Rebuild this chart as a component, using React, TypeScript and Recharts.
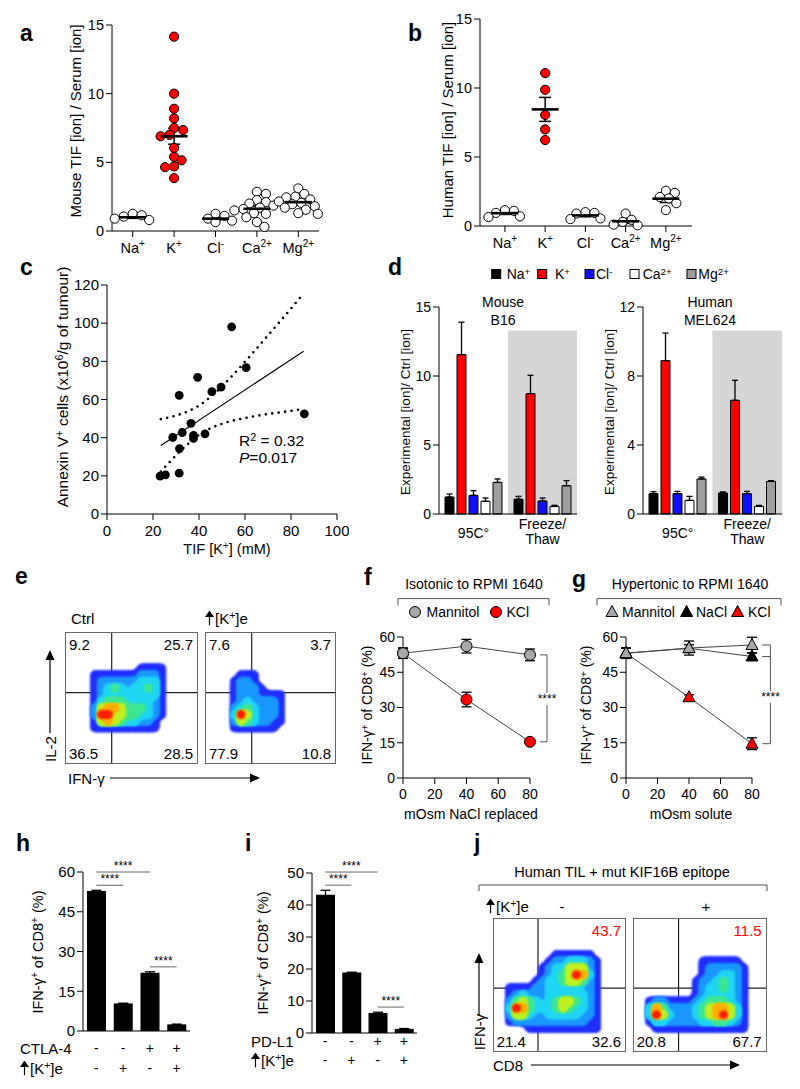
import React from 'react'
import {
  ComposedChart,
  ScatterChart,
  BarChart,
  LineChart,
  Scatter,
  Bar,
  Line,
  XAxis,
  YAxis,
  ErrorBar,
  ReferenceLine,
  ReferenceArea,
} from 'recharts'

const FONT = '"Liberation Sans", Arial, Helvetica, sans-serif'
const INK = '#000'
const RED = '#ff0000'
const GREY = '#a8a8a8'

// a / b: TIF vs serum ratio per ion
const ions = ['Na', 'K', 'Cl', 'Ca', 'Mg']
const ionCharge = ['+', '+', '-', '2+', '2+']
const ionColors = ['#000000', '#ff0000', '#1010ff', '#ffffff', '#9e9e9e']

const mouseNa = [1.25, 1.15, 1.05, 0.8, 0.9]
const mouseK = [14.15, 10.0, 8.9, 8.2, 7.5, 7.35, 7.0, 6.9, 6.05, 5.4, 5.15, 4.7, 4.65, 3.85]
const mouseCl = [1.25, 1.1, 0.9, 0.75, 0.65]
const mouseCa = [2.85, 2.7, 2.25, 2.1, 2.0, 1.85, 1.7, 1.6, 1.5, 1.3, 1.25, 1.0, 0.65, 0.3]
const mouseMg = [3.1, 2.7, 2.5, 2.45, 2.3, 2.15, 2.05, 1.95, 1.8, 1.7, 1.55, 1.3, 1.25]
const mouseMean = [1.0, 6.9, 0.9, 1.62, 2.1]
const mouseSem = [0.08, 0.58, 0.1, 0.2, 0.15]

const humanNa = [1.15, 1.1, 0.95, 0.7, 0.65]
const humanK = [11.08, 9.87, 8.05, 7.0, 6.23]
const humanCl = [1.0, 0.95, 0.9, 0.55, 0.5]
const humanCa = [0.9, 0.45, 0.3, 0.1, 0.05]
const humanMg = [2.55, 2.4, 2.1, 2.0, 1.65, 1.15]
const humanMean = [0.93, 8.45, 0.77, 0.34, 1.98]
const humanSem = [0.09, 0.87, 0.1, 0.15, 0.28]

// c: annexin V+ vs TIF [K+]
const tifK = [54.2, 60.5, 39.4, 31.4, 45.6, 49.6, 85.8, 36.5, 32.7, 28.6, 37.6, 37.6, 42.6, 31.5, 23.1, 25.4, 31.4]
const annexinV = [98.1, 76.7, 71.6, 62.2, 64.1, 66.5, 52.5, 47.5, 42.7, 40.1, 41.2, 39.6, 42.0, 34.3, 19.8, 20.5, 21.4]
const fitX = [23.4, 85.5]
const fitY = [35.9, 85.3]
const ciX = [23.4, 30, 35, 40, 45, 50, 55, 60, 65, 70, 75, 80, 85.5]
const ciUpperY = [49.7, 51.6, 53.7, 56.8, 61.3, 66.9, 73.1, 79.8, 86.6, 93.6, 100.6, 107.7, 115.6]
const ciLowerY = [22.2, 30.7, 36.5, 41.4, 44.9, 47.3, 49.0, 50.3, 51.4, 52.4, 53.2, 54.1, 55.0]

// d: lysis experiments
const dGroups = ['95C°', 'Freeze/Thaw']
const b16Heat = [1.23, 11.55, 1.35, 0.92, 2.29]
const b16HeatErr = [0.22, 2.35, 0.34, 0.24, 0.25]
const b16Freeze = [1.07, 8.72, 0.94, 0.55, 2.05]
const b16FreezeErr = [0.21, 1.33, 0.22, 0.08, 0.37]
const melHeat = [1.18, 8.89, 1.18, 0.79, 2.03]
const melHeatErr = [0.11, 1.6, 0.13, 0.23, 0.11]
const melFreeze = [1.22, 6.59, 1.18, 0.44, 1.89]
const melFreezeErr = [0.06, 1.16, 0.13, 0.06, 0.04]

// e / j: flow density maps (levels 0-7 on a 20x20 grid, top row first)
const Z = '00000000000000000000'
const eCtrlDensity = [Z, Z, Z, Z, Z,
  '00000000000111100000',
  '00001111111222100000',
  '00001222222333100000',
  '00001234323343100000',
  '00001233333333100000',
  '00001344433332100000',
  '00002566544432100000',
  '00002775544332100000',
  '00001565433221000000',
  '00001111111111000000',
  Z, Z, Z, Z, Z]
const eKDensity = [Z, Z, Z, Z, Z, Z,
  '00000111000000000000',
  '00001221000000000000',
  '00001222100000000000',
  '00001222111100000000',
  '00001232222100000000',
  '00002343222100000000',
  '00003753222100000000',
  '00002543221100000000',
  '00001111111000000000',
  Z, Z, Z, Z, Z]
const jCtrlDensity = [Z, Z, Z, Z, Z,
  '00000000011111100000',
  '00000000122333210000',
  '00000001233555210000',
  '00000001234576310000',
  '00000012334554210000',
  '00111122333332210000',
  '00123222333333210000',
  '00245432345543210000',
  '00376433345433210000',
  '00255322333332210000',
  '00122222222222110000',
  '00000111111111110000',
  Z, Z, Z]
const jKDensity = [Z, Z, Z, Z, Z, Z,
  '00000000001111110000',
  '00000000001222221000',
  '00000000001223321000',
  '00000000012234321000',
  '00000000012334321000',
  '00000000012333321000',
  '00122111123444321000',
  '00364222234566531000',
  '00375322234567531000',
  '00133222223344321000',
  '00011111111111111000',
  Z, Z, Z]
const eCtrlPct = [9.2, 25.7, 36.5, 28.5]
const eKPct = [7.6, 3.7, 77.9, 10.8]
const jCtrlPct = [null, 43.7, 21.4, 32.6]
const jKPct = [null, 11.5, 20.8, 67.7]
const eGates = [[7.02, 10.8], [7.13, 10.8]]
const jGates = [[6.75, 9.5], [6.8, 9.5]]
const DENSITY = ['none', '#1f2dff', '#1a96ff', '#1ed6f2', '#3ee692', '#bff020', '#ffae00', '#ff1c00']

// f / g: IFN-g+ vs osmolality
const osm = [0, 40, 80]
const isoMannitol = [53.1, 56.1, 52.4]
const isoMannitolErr = [2.2, 2.9, 2.5]
const isoKCl = [53.1, 33.4, 15.4]
const isoKClErr = [2.2, 3.1, 0.8]
const hyperMannitol = [53.1, 55.3, 56.6]
const hyperMannitolErr = [2.2, 3.0, 3.3]
const hyperNaCl = [53.1, 55.2, 51.7]
const hyperNaClErr = [2.2, 1.5, 1.5]
const hyperKCl = [53.1, 34.4, 14.6]
const hyperKClErr = [2.2, 1.0, 2.5]

// h / i: checkpoint blockade
const hCond = ['ctrl', 'K', 'CTLA-4', 'CTLA-4+K']
const hVals = [52.8, 10.4, 22.0, 2.5]
const hErr = [0.3, 0.1, 0.35, 0.1]
const hAb = ['-', '-', '+', '+']
const hK = ['-', '+', '-', '+']
const hSig = [[0, 1, 55], [0, 2, 60], [2, 3, 24.2]]
const iCond = ['ctrl', 'K', 'PD-L1', 'PD-L1+K']
const iVals = [43.2, 18.9, 6.25, 1.3]
const iErr = [1.4, 0.1, 0.25, 0.1]
const iAb = ['-', '-', '+', '+']
const iK = ['-', '+', '-', '+']
const iSig = [[0, 1, 46.2], [0, 2, 50.3], [2, 3, 8.1]]

type Rect = { l: number; t: number; r: number; b: number }

const frame = (p: Rect, yW: number, xH: number, mt = 10, mr = 10) => ({
  style: { position: 'absolute' as const, left: p.l - yW, top: p.t - mt },
  width: p.r - p.l + yW + mr,
  height: p.b - p.t + mt + xH,
  margin: { top: mt, right: mr, bottom: 0, left: 0 },
})

const tickFont = { fontSize: 14, fill: '#000' }

const Sup = ({ children }: { children: React.ReactNode }) => (
  <span style={{ fontSize: '0.7em', position: 'relative', top: '-0.45em' }}>{children}</span>
)

function Txt({ x, y, size = 14, anchor = 'start', rot = false, bold = false, color = '#000', bg, children }: any) {
  const tx = anchor === 'start' ? '0%' : anchor === 'end' ? '-100%' : '-50%'
  return (
    <div
      style={{
        position: 'absolute',
        left: x,
        top: y,
        fontSize: size,
        lineHeight: 1,
        whiteSpace: 'nowrap',
        fontWeight: bold ? 700 : 400,
        color,
        background: bg,
        transform: `translate(${tx}, -50%)${rot ? ' rotate(-90deg)' : ''}`,
      }}
    >
      {children}
    </div>
  )
}

const UpArrow = () => (
  <svg width={9} height={15} viewBox="0 0 9 15" style={{ verticalAlign: '-2px', marginRight: 1 }}>
    <polygon points="4.5,0 9,6.5 0,6.5" fill="#000" />
    <line x1={4.5} y1={5} x2={4.5} y2={15} stroke="#000" strokeWidth={1.2} />
  </svg>
)

const KE = () => (
  <>
    <UpArrow />[K<Sup>+</Sup>]e
  </>
)

const IfnLabel = () => (
  <>
    IFN-γ<Sup>+</Sup> of CD8<Sup>+</Sup> (%)
  </>
)

// simple beeswarm: nudge points sideways until they stop overlapping
function swarm(values: number[], slot: number, pxY: number, pxX: number, gap: number) {
  const placed: { dx: number; py: number }[] = []
  return values.map((v) => {
    const py = v * pxY
    let dx = 0
    for (let k = 0; k < 80; k++) {
      const cand = (k % 2 ? 1 : -1) * Math.ceil(k / 2) * 1.5
      if (placed.every((p) => (p.dx - cand) ** 2 + (p.py - py) ** 2 >= gap * gap)) {
        dx = cand
        break
      }
    }
    placed.push({ dx, py })
    return { x: slot + dx / pxX, y: v }
  })
}

const IonTick = (p: any) => {
  const i = Math.round(p.payload.value) - 1
  return (
    <text x={p.x} y={p.y + 14} textAnchor="middle" fontSize={14.5} fill="#000">
      {ions[i]}
      <tspan dy={-6} fontSize={10}>
        {ionCharge[i]}
      </tspan>
    </text>
  )
}

const swarmDot = (p: any) => (
  <circle cx={p.cx} cy={p.cy} r={4.6} fill={p.payload.hot ? RED : '#fff'} stroke={INK} strokeWidth={1} />
)
const meanBar = (p: any) => (
  <line x1={p.cx - 13.5} x2={p.cx + 13.5} y1={p.cy} y2={p.cy} stroke={INK} strokeWidth={2.6} />
)

function IonPanel({ plot, xDomain, groups, mean, sem }: any) {
  const f = frame(plot, 50, 40)
  const pxY = (plot.b - plot.t) / 15
  const pxX = (plot.r - plot.l) / (xDomain[1] - xDomain[0])
  const pts = groups.flatMap((vals: number[], gi: number) =>
    swarm(vals, gi + 1, pxY, pxX, 8).map((q) => ({ ...q, hot: gi === 1 ? 1 : 0 })),
  )
  const means = mean.map((m: number, i: number) => ({ x: i + 1, y: m, sem: sem[i] }))
  return (
    <div style={f.style}>
      <ScatterChart width={f.width} height={f.height} margin={f.margin}>
        <XAxis type="number" dataKey="x" domain={xDomain} ticks={[1, 2, 3, 4, 5]} interval={0} tick={<IonTick />} tickSize={6} height={40} stroke={INK} />
        <YAxis type="number" dataKey="y" domain={[0, 15]} ticks={[0, 5, 10, 15]} width={50} tickSize={6} tick={{ fontSize: 14.5, fill: '#000' }} stroke={INK} />
        <Scatter data={pts} shape={swarmDot} isAnimationActive={false} />
        <Scatter data={means} shape={meanBar} isAnimationActive={false}>
          <ErrorBar dataKey="sem" direction="y" width={6} stroke={INK} strokeWidth={1.5} />
        </Scatter>
      </ScatterChart>
    </div>
  )
}

function CorrPanel() {
  const plot = { l: 107, t: 285, r: 337, b: 514 }
  const f = frame(plot, 50, 40, 10, 12)
  const pts = tifK.map((x, i) => ({ x, y: annexinV[i] }))
  const fit = fitX.map((x, i) => ({ x, y: fitY[i] }))
  const upper = ciX.map((x, i) => ({ x, y: ciUpperY[i] }))
  const lower = ciX.map((x, i) => ({ x, y: ciLowerY[i] }))
  const big = { fontSize: 15, fill: '#000' }
  return (
    <div style={f.style}>
      <ComposedChart width={f.width} height={f.height} margin={f.margin}>
        <XAxis type="number" dataKey="x" domain={[0, 100]} ticks={[0, 20, 40, 60, 80, 100]} tickSize={6} tickMargin={5} tick={big} stroke={INK} height={40} />
        <YAxis type="number" dataKey="y" domain={[0, 120]} ticks={[0, 20, 40, 60, 80, 100, 120]} width={50} tickSize={6} tick={big} stroke={INK} />
        <Line data={upper} dataKey="y" type="monotone" stroke={INK} strokeWidth={2.6} strokeDasharray="0 6.5" strokeLinecap="round" dot={false} activeDot={false} isAnimationActive={false} />
        <Line data={lower} dataKey="y" type="monotone" stroke={INK} strokeWidth={2.6} strokeDasharray="0 6.5" strokeLinecap="round" dot={false} activeDot={false} isAnimationActive={false} />
        <Line data={fit} dataKey="y" stroke={INK} strokeWidth={1.1} dot={false} activeDot={false} isAnimationActive={false} />
        <Scatter data={pts} dataKey="y" shape={(p: any) => <circle cx={p.cx} cy={p.cy} r={4.4} fill={INK} />} isAnimationActive={false} />
      </ComposedChart>
    </div>
  )
}

const GroupTick = (p: any) => {
  const v: string = p.payload.value
  if (v.includes('/')) {
    const [a, b] = v.split('/')
    return (
      <text textAnchor="middle" fontSize={14} fill="#000">
        <tspan x={p.x} y={p.y + 15}>{a + '/'}</tspan>
        <tspan x={p.x} y={p.y + 30}>{b}</tspan>
      </text>
    )
  }
  return (
    <text x={p.x} y={p.y + 24} textAnchor="middle" fontSize={14} fill="#000">
      {v}
    </text>
  )
}

function LysisPanel({ plot, heat, heatErr, freeze, freezeErr, yMax, ticks, shadeTop }: any) {
  const f = frame(plot, 50, 40)
  const rows = dGroups.map((g, gi) => {
    const v = gi ? freeze : heat
    const e = gi ? freezeErr : heatErr
    const row: any = { g }
    ions.forEach((ion, i) => {
      row[ion] = v[i]
      row[ion + 'Err'] = [0, e[i]]
    })
    return row
  })
  return (
    <div style={f.style}>
      <BarChart width={f.width} height={f.height} margin={f.margin} data={rows} barSize={9} barGap={3}>
        <XAxis dataKey="g" tickLine={false} tickSize={0} tickMargin={0} tick={<GroupTick />} stroke={INK} height={40} />
        <YAxis domain={[0, yMax]} ticks={ticks} width={50} tickSize={6} tick={tickFont} stroke={INK} />
        <ReferenceArea x1={dGroups[1]} x2={dGroups[1]} y1={0} y2={shadeTop} fill="#d6d6d6" fillOpacity={1} stroke="none" ifOverflow="visible" />
        {ions.map((ion, i) => (
          <Bar key={ion} dataKey={ion} fill={ionColors[i]} stroke={INK} strokeWidth={1} isAnimationActive={false}>
            <ErrorBar dataKey={ion + 'Err'} direction="y" width={3} stroke={INK} strokeWidth={1.3} />
          </Bar>
        ))}
      </BarChart>
    </div>
  )
}

const circleDot = (fill: string) => (p: any) => (
  <circle key={`c${p.index}`} cx={p.cx} cy={p.cy} r={5.5} fill={fill} stroke={INK} strokeWidth={1} />
)
const triDot = (fill: string) => (p: any) => (
  <polygon
    key={`t${p.index}`}
    points={`${p.cx},${p.cy - 6.5} ${p.cx - 6},${p.cy + 4.5} ${p.cx + 6},${p.cy + 4.5}`}
    fill={fill}
    stroke={INK}
    strokeWidth={1}
  />
)

const bracketLine = { stroke: '#555', strokeWidth: 1, ifOverflow: 'visible' as const }

function IsoPanel() {
  const plot = { l: 403, t: 637, r: 530, b: 778 }
  const f = frame(plot, 50, 40, 10, 35)
  const rows = osm.map((o, i) => ({ osm: o, mannitol: isoMannitol[i], mannitolErr: isoMannitolErr[i], kcl: isoKCl[i], kclErr: isoKClErr[i] }))
  const top = isoMannitol[2]
  const bot = isoKCl[2]
  return (
    <div style={f.style}>
      <LineChart width={f.width} height={f.height} margin={f.margin} data={rows}>
        <XAxis type="number" dataKey="osm" domain={[0, 80]} ticks={[0, 20, 40, 60, 80]} tickSize={6} tickMargin={5} tick={tickFont} stroke={INK} height={40} />
        <YAxis domain={[0, 60]} ticks={[0, 15, 30, 45, 60]} width={50} tickSize={6} tick={tickFont} stroke={INK} />
        <Line dataKey="kcl" stroke="#444" strokeWidth={1} dot={circleDot(RED)} activeDot={false} isAnimationActive={false}>
          <ErrorBar dataKey="kclErr" direction="y" width={5} stroke={INK} strokeWidth={1.3} />
        </Line>
        <Line dataKey="mannitol" stroke="#444" strokeWidth={1} dot={circleDot(GREY)} activeDot={false} isAnimationActive={false}>
          <ErrorBar dataKey="mannitolErr" direction="y" width={5} stroke={INK} strokeWidth={1.3} />
        </Line>
        <ReferenceLine segment={[{ x: 86.3, y: top }, { x: 90.7, y: top }]} {...bracketLine} />
        <ReferenceLine segment={[{ x: 86.3, y: bot }, { x: 90.7, y: bot }]} {...bracketLine} />
        <ReferenceLine segment={[{ x: 90.7, y: top }, { x: 90.7, y: bot }]} {...bracketLine} />
      </LineChart>
    </div>
  )
}

function HyperPanel() {
  const plot = { l: 625.5, t: 637, r: 751.5, b: 778 }
  const f = frame(plot, 50, 40, 10, 35)
  const rows = osm.map((o, i) => ({
    osm: o,
    mannitol: hyperMannitol[i],
    mannitolErr: hyperMannitolErr[i],
    nacl: hyperNaCl[i],
    naclErr: hyperNaClErr[i],
    kcl: hyperKCl[i],
    kclErr: hyperKClErr[i],
  }))
  const top = hyperMannitol[2]
  const mid = hyperNaCl[2]
  const bot = hyperKCl[2]
  return (
    <div style={f.style}>
      <LineChart width={f.width} height={f.height} margin={f.margin} data={rows}>
        <XAxis type="number" dataKey="osm" domain={[0, 80]} ticks={[0, 20, 40, 60, 80]} tickSize={6} tickMargin={5} tick={tickFont} stroke={INK} height={40} />
        <YAxis domain={[0, 60]} ticks={[0, 15, 30, 45, 60]} width={50} tickSize={6} tick={tickFont} stroke={INK} />
        <Line dataKey="kcl" stroke="#444" strokeWidth={1} dot={triDot(RED)} activeDot={false} isAnimationActive={false}>
          <ErrorBar dataKey="kclErr" direction="y" width={5} stroke={INK} strokeWidth={1.3} />
        </Line>
        <Line dataKey="nacl" stroke="#444" strokeWidth={1} dot={triDot('#000')} activeDot={false} isAnimationActive={false}>
          <ErrorBar dataKey="naclErr" direction="y" width={5} stroke={INK} strokeWidth={1.3} />
        </Line>
        <Line dataKey="mannitol" stroke="#444" strokeWidth={1} dot={triDot(GREY)} activeDot={false} isAnimationActive={false}>
          <ErrorBar dataKey="mannitolErr" direction="y" width={5} stroke={INK} strokeWidth={1.3} />
        </Line>
        <ReferenceLine segment={[{ x: 86.5, y: top }, { x: 91.7, y: top }]} {...bracketLine} />
        <ReferenceLine segment={[{ x: 86.5, y: mid }, { x: 91.7, y: mid }]} {...bracketLine} />
        <ReferenceLine segment={[{ x: 86.5, y: bot }, { x: 91.7, y: bot }]} {...bracketLine} />
        <ReferenceLine segment={[{ x: 91.7, y: top }, { x: 91.7, y: bot }]} {...bracketLine} />
      </LineChart>
    </div>
  )
}

const signTick = (rowA: string[], rowB: string[], dyA: number, dyB: number) => (p: any) => (
  <g>
    <text x={p.x} y={p.y + dyA} textAnchor="middle" dominantBaseline="central" fontSize={14} fill="#000">
      {rowA[p.index]}
    </text>
    <text x={p.x} y={p.y + dyB} textAnchor="middle" dominantBaseline="central" fontSize={14} fill="#000">
      {rowB[p.index]}
    </text>
  </g>
)

function BlockPanel({ plot, cond, vals, errs, yMax, ticks, sig, rowA, rowB, dyA, dyB }: any) {
  const f = frame(plot, 50, 50, 20, 10)
  const rows = cond.map((c: string, i: number) => ({ c, v: vals[i], e: errs[i] }))
  return (
    <div style={f.style}>
      <BarChart width={f.width} height={f.height} margin={f.margin} data={rows} barSize={19}>
        <XAxis dataKey="c" tickLine={false} tickSize={0} tickMargin={0} tick={signTick(rowA, rowB, dyA, dyB)} stroke={INK} height={50} interval={0} />
        <YAxis domain={[0, yMax]} ticks={ticks} width={50} tickSize={6} tick={{ fontSize: 15, fill: '#000' }} stroke={INK} />
        <Bar dataKey="v" fill="#000" isAnimationActive={false}>
          <ErrorBar dataKey="e" direction="y" width={5} stroke={INK} strokeWidth={1.3} />
        </Bar>
        {sig.map((s: number[], k: number) => (
          <ReferenceLine
            key={k}
            segment={[{ x: cond[s[0]], y: s[2] }, { x: cond[s[1]], y: s[2] }]}
            stroke="#666"
            strokeWidth={1}
            ifOverflow="visible"
            label={{ value: '****', position: 'top', fontSize: 12, fill: '#000', offset: 2 }}
          />
        ))}
      </BarChart>
    </div>
  )
}

function densityCells(rows: string[]) {
  const cells: { x: number; y: number; level: number }[] = []
  rows.forEach((r, ri) =>
    r.split('').forEach((ch, ci) => {
      const level = Number(ch)
      if (level) cells.push({ x: ci + 0.5, y: rows.length - ri - 0.5, level })
    }),
  )
  return cells
}

const LEVELS = [1, 2, 3, 4, 5, 6, 7]

function DensityPlot({ box, rows, gate, pct, hiColor = '#000' }: any) {
  const cells = densityCells(rows)
  const r = (box.w / 20) * 0.72
  const corner = (v: number | null, k: number) => {
    if (v == null) return null
    const right = k % 2 === 1
    const bottom = k >= 2
    return (
      <Txt
        key={k}
        x={right ? box.x + box.w - 5 : box.x + 4}
        y={bottom ? box.y + box.h - 11 : box.y + 12}
        anchor={right ? 'end' : 'start'}
        size={15}
        color={k === 1 ? hiColor : '#000'}
      >
        {v.toFixed(1)}
      </Txt>
    )
  }
  return (
    <>
      <div className="density-plot" style={{ position: 'absolute', left: box.x, top: box.y }}>
        <ScatterChart width={box.w} height={box.h} margin={{ top: 0, right: 0, bottom: 0, left: 0 }}>
          <XAxis type="number" dataKey="x" domain={[0, 20]} hide />
          <YAxis type="number" dataKey="y" domain={[0, 20]} hide />
          {LEVELS.map((lv) => (
            <Scatter
              key={lv}
              data={cells.filter((c) => c.level >= lv)}
              shape={(p: any) => <circle cx={p.cx} cy={p.cy} r={lv === 7 ? r * 0.95 : r} fill={DENSITY[lv]} />}
              isAnimationActive={false}
            />
          ))}
          <ReferenceLine x={gate[0]} stroke="#222" strokeWidth={1.2} />
          <ReferenceLine y={gate[1]} stroke="#222" strokeWidth={1.2} />
        </ScatterChart>
      </div>
      <div style={{ position: 'absolute', left: box.x, top: box.y, width: box.w, height: box.h, boxSizing: 'border-box', border: '1px solid #666' }} />
      {pct.map(corner)}
    </>
  )
}

const Arrow = ({ x1, y1, x2, y2 }: { x1: number; y1: number; x2: number; y2: number }) => {
  const ang = Math.atan2(y2 - y1, x2 - x1)
  const L = 10
  const W = 4.5
  const bx = x2 - L * Math.cos(ang)
  const by = y2 - L * Math.sin(ang)
  const px = -Math.sin(ang) * W
  const py = Math.cos(ang) * W
  return (
    <g>
      <line x1={x1} y1={y1} x2={bx} y2={by} stroke="#000" strokeWidth={1.2} />
      <polygon points={`${x2},${y2} ${bx + px},${by + py} ${bx - px},${by - py}`} fill="#000" />
    </g>
  )
}

export default function App() {
  return (
    <div
      style={{
        position: 'absolute',
        left: 0,
        top: 0,
        width: 800,
        height: 1089,
        background: '#fff',
        overflow: 'hidden',
        fontFamily: FONT,
        color: '#000',
      }}
    >
      <style>{`.density-plot .recharts-scatter { filter: url(#goo); }`}</style>
      <svg width={0} height={0} style={{ position: 'absolute' }}>
        <defs>
          <filter id="goo" x="-20%" y="-20%" width="140%" height="140%" colorInterpolationFilters="sRGB">
            <feGaussianBlur in="SourceGraphic" stdDeviation="2.4" result="b" />
            <feColorMatrix in="b" mode="matrix" values="1 0 0 0 0  0 1 0 0 0  0 0 1 0 0  0 0 0 16 -6" result="g" />
            <feGaussianBlur in="g" stdDeviation="1.1" />
          </filter>
        </defs>
      </svg>

      {/* a */}
      <IonPanel plot={{ l: 112, t: 25, r: 319, b: 231 }} xDomain={[0.5, 5.5]} groups={[mouseNa, mouseK, mouseCl, mouseCa, mouseMg]} mean={mouseMean} sem={mouseSem} />
      <Txt x={20} y={33} size={23} bold>a</Txt>
      <Txt x={75} y={121} size={15} anchor="middle" rot>Mouse TIF [ion] / Serum [ion]</Txt>

      {/* b */}
      <IonPanel plot={{ l: 480, t: 19, r: 692, b: 226 }} xDomain={[0.38, 5.65]} groups={[humanNa, humanK, humanCl, humanCa, humanMg]} mean={humanMean} sem={humanSem} />
      <Txt x={408} y={33} size={23} bold>b</Txt>
      <Txt x={447} y={120} size={15} anchor="middle" rot>Human TIF [ion] / Serum [ion]</Txt>

      {/* c */}
      <CorrPanel />
      <Txt x={20} y={267} size={23} bold>c</Txt>
      <Txt x={63} y={387} size={15.5} anchor="middle" rot>
        Annexin V<Sup>+</Sup> cells (x10<Sup>6</Sup>/g of tumour)
      </Txt>
      <Txt x={227} y={549} size={14.5} anchor="middle">
        TIF [K<Sup>+</Sup>] (mM)
      </Txt>
      <Txt x={239} y={441} size={15.5}>
        R<Sup>2</Sup> = 0.32
      </Txt>
      <Txt x={239} y={458} size={15.5}>
        <i>P</i>=0.017
      </Txt>

      {/* d */}
      <LysisPanel plot={{ l: 439, t: 307, r: 577, b: 514 }} heat={b16Heat} heatErr={b16HeatErr} freeze={b16Freeze} freezeErr={b16FreezeErr} yMax={15} ticks={[0, 5, 10, 15]} shadeTop={13.3} />
      <LysisPanel plot={{ l: 643, t: 307, r: 782, b: 514 }} heat={melHeat} heatErr={melHeatErr} freeze={melFreeze} freezeErr={melFreezeErr} yMax={12} ticks={[0, 4, 8, 12]} shadeTop={10.64} />
      <Txt x={388} y={267} size={23} bold>d</Txt>
      <Txt x={503} y={302} anchor="middle">Mouse</Txt>
      <Txt x={503} y={320} anchor="middle">B16</Txt>
      <Txt x={710} y={302} anchor="middle">Human</Txt>
      <Txt x={710} y={320} anchor="middle">MEL624</Txt>
      <Txt x={406} y={412} size={13.5} anchor="middle" rot>Experimental [ion]/ Ctrl [ion]</Txt>
      <Txt x={610} y={412} size={13.5} anchor="middle" rot>Experimental [ion]/ Ctrl [ion]</Txt>
      {[506.7, 555, 596, 642.7, 698.3].map((x, i) => (
        <Txt key={i} x={x} y={274}>
          {ions[i]}
          <Sup>{ionCharge[i]}</Sup>
        </Txt>
      ))}

      {/* e */}
      <Txt x={15} y={576} size={23} bold>e</Txt>
      <Txt x={71} y={618} size={15}>Ctrl</Txt>
      <Txt x={205} y={618} size={15}><KE /></Txt>
      <DensityPlot box={{ x: 65, y: 632, w: 133, h: 132 }} rows={eCtrlDensity} gate={eGates[0]} pct={eCtrlPct} />
      <DensityPlot box={{ x: 205, y: 632, w: 131, h: 132 }} rows={eKDensity} gate={eGates[1]} pct={eKPct} />
      <Txt x={50} y={749} size={15} anchor="middle" rot>IL-2</Txt>
      <Txt x={68} y={778} size={15}>IFN-γ</Txt>

      {/* f */}
      <IsoPanel />
      <Txt x={364} y={577} size={23} bold>f</Txt>
      <Txt x={474} y={584} anchor="middle">Isotonic to RPMI 1640</Txt>
      <Txt x={426.5} y={612}>Mannitol</Txt>
      <Txt x={506.5} y={612}>KCl</Txt>
      <Txt x={367} y={705} size={14} anchor="middle" rot><IfnLabel /></Txt>
      <Txt x={471} y={814} anchor="middle">mOsm NaCl replaced</Txt>
      <Txt x={547} y={699} size={12} anchor="middle" bg="#fff">****</Txt>

      {/* g */}
      <HyperPanel />
      <Txt x={572} y={579} size={23} bold>g</Txt>
      <Txt x={690} y={584} anchor="middle">Hypertonic to RPMI 1640</Txt>
      <Txt x={622} y={612}>Mannitol</Txt>
      <Txt x={696} y={612}>NaCl</Txt>
      <Txt x={748} y={612}>KCl</Txt>
      <Txt x={586} y={705} size={14} anchor="middle" rot><IfnLabel /></Txt>
      <Txt x={691} y={814} anchor="middle">mOsm solute</Txt>
      <Txt x={770.5} y={697} size={12} anchor="middle" bg="#fff">****</Txt>

      {/* h */}
      <BlockPanel plot={{ l: 83, t: 872, r: 190, b: 1031 }} cond={hCond} vals={hVals} errs={hErr} yMax={60} ticks={[0, 15, 30, 45, 60]} sig={hSig} rowA={hAb} rowB={hK} dyA={17} dyB={37} />
      <Txt x={16} y={843} size={23} bold>h</Txt>
      <Txt x={38} y={952} size={14.5} anchor="middle" rot><IfnLabel /></Txt>
      <Txt x={20} y={1048} size={15}>CTLA-4</Txt>
      <Txt x={20} y={1068} size={15}><KE /></Txt>

      {/* i */}
      <BlockPanel plot={{ l: 312, t: 873, r: 417, b: 1033 }} cond={iCond} vals={iVals} errs={iErr} yMax={50} ticks={[0, 10, 20, 30, 40, 50]} sig={iSig} rowA={iAb} rowB={iK} dyA={8} dyB={27} />
      <Txt x={245} y={843} size={23} bold>i</Txt>
      <Txt x={263} y={953} size={14.5} anchor="middle" rot><IfnLabel /></Txt>
      <Txt x={251} y={1041} size={15}>PD-L1</Txt>
      <Txt x={251} y={1060} size={15}><KE /></Txt>

      {/* j */}
      <Txt x={474} y={843} size={23} bold>j</Txt>
      <Txt x={622} y={872} size={14.5} anchor="middle">Human TIL + mut KIF16B epitope</Txt>
      <Txt x={486} y={906} size={15}><KE /></Txt>
      <Txt x={562} y={906} size={15} anchor="middle">-</Txt>
      <Txt x={706} y={906} size={15} anchor="middle">+</Txt>
      <DensityPlot box={{ x: 492.7, y: 918.3, w: 133.3, h: 133.4 }} rows={jCtrlDensity} gate={jGates[0]} pct={jCtrlPct} hiColor={RED} />
      <DensityPlot box={{ x: 632.7, y: 918.3, w: 134, h: 133.4 }} rows={jKDensity} gate={jGates[1]} pct={jKPct} hiColor={RED} />
      <Txt x={479} y={1032} size={15} anchor="middle" rot>IFN-γ</Txt>
      <Txt x={493} y={1065} size={15}>CD8</Txt>

      {/* overlay: brackets, arrows, legend keys */}
      <svg width={800} height={1089} style={{ position: 'absolute', left: 0, top: 0, pointerEvents: 'none' }}>
        <path d="M398,605.5 V598.6 H549 V605.5" fill="none" stroke="#555" strokeWidth={1} />
        <path d="M597,605.5 V598.6 H781 V605.5" fill="none" stroke="#555" strokeWidth={1} />
        <path d="M479,891 V885 H767 V891" fill="none" stroke="#555" strokeWidth={1} />
        <circle cx={415} cy={612} r={5.5} fill={GREY} stroke={INK} />
        <circle cx={496} cy={612} r={5.5} fill={RED} stroke={INK} />
        <polygon points="612,605.5 606,616.5 618,616.5" fill={GREY} stroke={INK} />
        <polygon points="686.6,605.5 680.6,616.5 692.6,616.5" fill="#000" stroke={INK} />
        <polygon points="737.6,605.5 731.6,616.5 743.6,616.5" fill={RED} stroke={INK} />
        {[491.7, 537.7, 585, 630, 687].map((x, i) => (
          <rect key={i} x={x} y={269.5} width={9} height={9} fill={ionColors[i]} stroke={INK} strokeWidth={1} />
        ))}
        <Arrow x1={50} y1={733} x2={50} y2={650} />
        <Arrow x1={110} y1={778} x2={260} y2={778} />
        <Arrow x1={479} y1={1015} x2={479} y2={953} />
        <Arrow x1={531} y1={1065} x2={740} y2={1065} />
      </svg>
    </div>
  )
}
